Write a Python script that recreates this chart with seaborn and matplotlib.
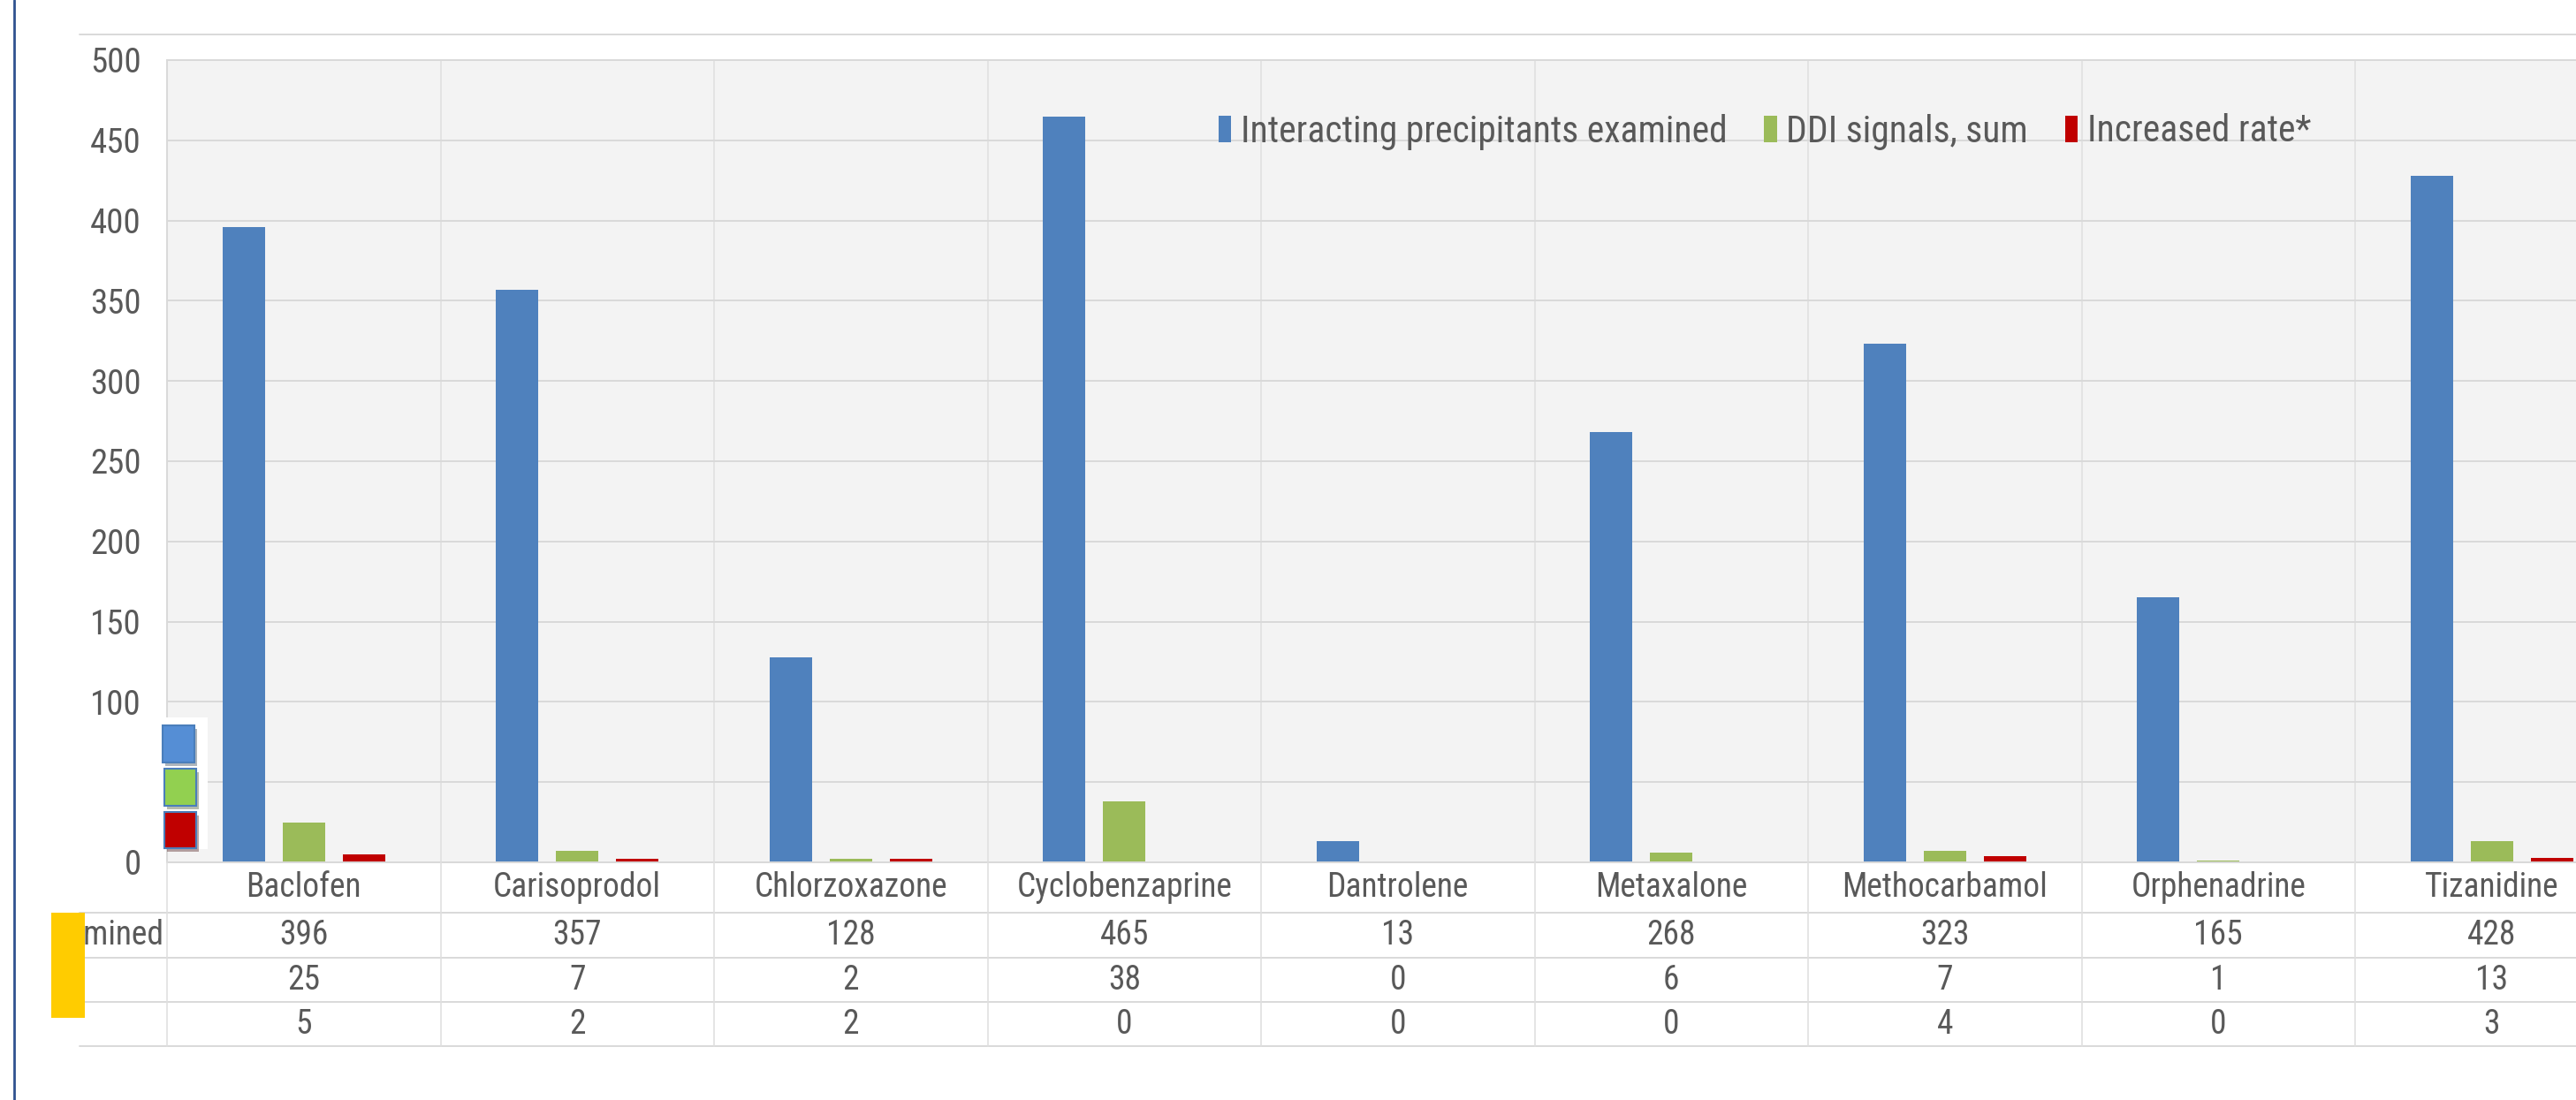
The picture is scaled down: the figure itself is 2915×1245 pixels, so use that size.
import numpy as np
import pandas as pd
import matplotlib
matplotlib.use('Agg')
import matplotlib.pyplot as plt
import matplotlib.patheffects as pe
import seaborn as sns
from matplotlib import font_manager
from matplotlib.patches import Rectangle
from matplotlib.lines import Line2D
from matplotlib.transforms import Bbox, TransformedBbox

# データ
drugs = ['Baclofen', 'Carisoprodol', 'Chlorzoxazone', 'Cyclobenzaprine', 'Dantrolene',
         'Metaxalone', 'Methocarbamol', 'Orphenadrine', 'Tizanidine']
examined = [396, 357, 128, 465, 13, 268, 323, 165, 428]
ddi_signals = [25, 7, 2, 38, 0, 6, 7, 1, 13]
increased_rate = [5, 2, 2, 0, 0, 0, 4, 0, 3]
series_names = ['Interacting precipitants examined', 'DDI signals, sum', 'Increased rate*']
bar_colors = ['#4f81bd', '#9bbb59', '#c00000']
key_colors = ['#558ed5', '#92d050', '#c00000']
y_ticks = [0, 50, 100, 150, 200, 250, 300, 350, 400, 450, 500]
y_labels = ['0', '', '100', '150', '200', '250', '300', '350', '400', '450', '500']

W, H = 2915, 1245
TEXT = '#595959'
GRID = '#d9d9d9'


def fx(px):
    return px / W


def fy(py):
    return 1 - py / H


def pick_font():
    """細め(Narrow/Condensed)のフォントがあれば優先する"""
    narrow = []
    for f in font_manager.fontManager.ttflist:
        low = f.fname.lower()
        if not ('narrow' in low or 'condensed' in low):
            continue
        if any(k in low for k in ['bold', 'italic', 'oblique', 'mono', 'serif', 'light', 'black', 'medium', 'thin']):
            continue
        narrow.append(f)
    for want in ['Liberation Sans Narrow', 'Roboto Condensed', 'Open Sans Condensed',
                 'Noto Sans', 'Open Sans', 'Roboto', 'DejaVu Sans']:
        for f in narrow:
            if f.name == want:
                return f.name, f.stretch, True
    return 'Liberation Sans', 'normal', False


font, stretch, is_narrow = pick_font()
print('font:', font, stretch)

sns.set_style('white')
plt.rcParams['font.family'] = [font, 'DejaVu Sans']
plt.rcParams['font.stretch'] = stretch

if is_narrow:
    fs_tick, fs_cell, fs_leg = 28, 27, 30
else:
    fs_tick, fs_cell, fs_leg = 25, 23, 26

series_values = [examined, ddi_signals, increased_rate]
df = pd.DataFrame({
    'drug': drugs * 3,
    'series': [s for s in series_names for _ in drugs],
    'value': [v for vals in series_values for v in vals],
})

fig = plt.figure(figsize=(W / 100, H / 100), dpi=100)
fig.patch.set_facecolor('white')

cell = 309.5
x0, y_base, y_top = 189, 976, 68
ax = fig.add_axes([fx(x0), fy(y_base), 9 * cell / W, (y_base - y_top) / H])

sns.barplot(data=df, x='drug', y='value', hue='series', hue_order=series_names,
            order=drugs, palette=bar_colors, width=0.66, gap=0.295,
            linewidth=0, saturation=1, errorbar=None, ax=ax)

ax.set_xlim(-0.5, 8.5)
ax.set_ylim(0, 500)
ax.set_facecolor('#f3f3f3')
ax.set_axisbelow(True)
ax.set_yticks(y_ticks)
ax.set_yticklabels(y_labels)
ax.yaxis.grid(True, color=GRID, lw=1.4)
for b in np.arange(-0.5, 9):
    ax.axvline(b, color='#e0e0e0', lw=1.2, zorder=0.5)
ax.set_xticks([])
ax.set_xlabel('')
ax.set_ylabel('')
ax.tick_params(axis='y', length=0, pad=21, labelsize=fs_tick, labelcolor=TEXT)
for side in ['top', 'left', 'bottom']:
    ax.spines[side].set_color(GRID)
    ax.spines[side].set_linewidth(1.4)
ax.spines['right'].set_visible(False)

handles, labels = ax.get_legend_handles_labels()
ax.legend(handles, labels, loc='center', bbox_to_anchor=(fx(1997), fy(149)),
          bbox_transform=fig.transFigure, ncol=3, frameon=False, fontsize=fs_leg,
          handlelength=0.35, handleheight=0.75, handletextpad=0.25,
          columnspacing=1.0, labelcolor=TEXT)

# データテーブル
tab = fig.add_axes([fx(x0), fy(1184), 9 * cell / W, (1184 - y_base) / H])
tab.set_xlim(-0.5, 8.5)
tab.set_ylim(1184, y_base)
tab.axis('off')
left_x = -0.5 - (x0 - 90) / cell
for yy in [1033, 1084, 1134, 1184]:
    tab.plot([left_x, 8.5], [yy, yy], color=GRID, lw=1.4, clip_on=False)
for b in np.arange(-0.5, 9):
    tab.plot([b, b], [y_base, 1184], color='#e0e0e0', lw=1.2, clip_on=False)

row_y = [1058.5, 1109, 1159]
for i, d in enumerate(drugs):
    tab.text(i, 1004.5, d, ha='center', va='center', fontsize=fs_cell, color=TEXT)
    for r, vals in enumerate(series_values):
        tab.text(i, row_y[r], str(vals[i]), ha='center', va='center',
                 fontsize=fs_cell, color=TEXT)

# 行見出し（左端で切れている）
hdr = tab.text(-0.5 - 4 / cell, row_y[0], series_names[0], ha='right', va='center',
               fontsize=fs_cell, color=TEXT, clip_on=True)
hdr.set_clip_box(TransformedBbox(Bbox([[fx(90), 0], [1, 1]]), fig.transFigure))

# 枠線など
fig.add_artist(Line2D([fx(16), fx(16)], [0, 1], color='#2f528f', lw=2))
fig.add_artist(Line2D([fx(90), 1], [fy(39), fy(39)], color=GRID, lw=1.4))

# 左側の凡例キー
fig.add_artist(Rectangle((fx(183), fy(961)), 52 / W, 149 / H, transform=fig.transFigure,
                         facecolor='white', edgecolor='none', zorder=5))
key_boxes = [(184, 821, 863), (186, 870, 912), (186, 919, 960)]
for (kx, ky0, ky1), c in zip(key_boxes, key_colors):
    r = Rectangle((fx(kx), fy(ky1)), 36 / W, (ky1 - ky0) / H, transform=fig.transFigure,
                  facecolor=c, edgecolor='#4a7ebb', lw=1.5, zorder=6)
    r.set_path_effects([pe.SimplePatchShadow(offset=(2, -3), alpha=0.35), pe.Normal()])
    fig.add_artist(r)

fig.add_artist(Rectangle((fx(58), fy(1152)), 38 / W, 119 / H, transform=fig.transFigure,
                         facecolor='#ffcc00', edgecolor='none', zorder=10))

fig.savefig('out.png', dpi=100)
